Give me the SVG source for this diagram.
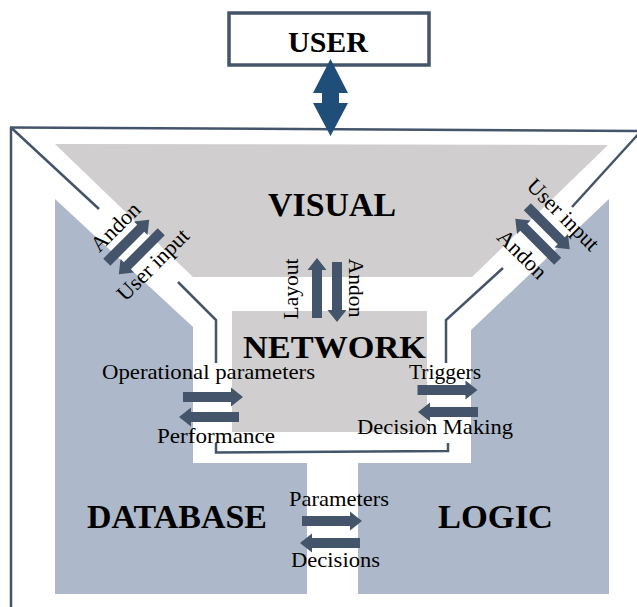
<svg xmlns="http://www.w3.org/2000/svg" width="637" height="607" viewBox="0 0 637 607">
<style>
.t{font-family:"Liberation Serif","Times New Roman",serif;font-size:22px;fill:#000}
.b{font-family:"Liberation Serif","Times New Roman",serif;font-weight:bold;fill:#000}
.ln{fill:none;stroke:#44546a;stroke-width:2.5}
.ar{fill:#44546a}
</style>
<defs>
<path id="arr" d="M-30,-5H18V-9.5L30,0L18,9.5V5H-30Z"/>
</defs>
<rect width="637" height="607" fill="#fff"/>
<g id="frame">
<path class="ln" d="M10,127.5L642,131"/>
<path class="ln" d="M11,127V607"/>
<path class="ln" d="M11,127.5L99,209"/>
<path class="ln" d="M178,282L216,320V363"/>
<path class="ln" d="M216,443V452.5L448,451V443"/>
<path class="ln" d="M446,363V320L503,268"/>
<path class="ln" d="M572,207L642,130"/>
</g>
<g id="visual">
<polygon points="55,144 608,145 472,277 193,277" fill="#d0cece"/>
<text class="b" x="332" y="216" font-size="33" text-anchor="middle" textLength="128" lengthAdjust="spacingAndGlyphs">VISUAL</text>
</g>
<g id="database">
<polygon points="55,199 193,327 193,463 307,463 307,594 55,594" fill="#adb9ca"/>
<text class="b" x="177" y="528" font-size="33" text-anchor="middle" textLength="180" lengthAdjust="spacingAndGlyphs">DATABASE</text>
</g>
<g id="logic">
<polygon points="609,199 471,330 471,463 358,463 358,594 609,594" fill="#adb9ca"/>
<text class="b" x="495.5" y="528" font-size="33" text-anchor="middle" textLength="115" lengthAdjust="spacingAndGlyphs">LOGIC</text>
</g>
<g id="network">
<rect x="232" y="311" width="195" height="121" fill="#d0cece"/>
<text class="b" x="334.5" y="358" font-size="32" text-anchor="middle" textLength="183" lengthAdjust="spacingAndGlyphs">NETWORK</text>
</g>
<g id="user">
<rect x="229" y="13" width="200" height="52" fill="#fff" stroke="#44546a" stroke-width="3.5"/>
<text class="b" x="328" y="52" font-size="30" text-anchor="middle" textLength="80" lengthAdjust="spacingAndGlyphs">USER</text>
</g>
<g id="connectors">
<polygon points="330.5,59 348,93 339,93 339,103 348,103 330.5,136 313,103 322,103 322,93 313,93" fill="#1f4e79"/>
<g transform="translate(134,247) rotate(-45)">
<use href="#arr" class="ar" transform="translate(0,-8.5)"/>
<use href="#arr" class="ar" transform="translate(0,8.5) rotate(180)"/>
<text class="t" x="1" y="-20" text-anchor="middle" textLength="60" lengthAdjust="spacingAndGlyphs">Andon</text>
<text class="t" x="1" y="33" text-anchor="middle" textLength="92" lengthAdjust="spacingAndGlyphs">User input</text>
</g>
<g transform="translate(542.5,234) rotate(45)">
<use href="#arr" class="ar" transform="translate(0,-8.5)"/>
<use href="#arr" class="ar" transform="translate(0,8.5) rotate(180)"/>
<text class="t" x="1" y="-21" text-anchor="middle" textLength="92" lengthAdjust="spacingAndGlyphs">User input</text>
<text class="t" x="0" y="36" text-anchor="middle" textLength="60" lengthAdjust="spacingAndGlyphs">Andon</text>
</g>
<use href="#arr" class="ar" transform="translate(317,288) rotate(-90)"/>
<use href="#arr" class="ar" transform="translate(337,292) rotate(90)"/>
<text class="t" transform="translate(298,289) rotate(-90)" text-anchor="middle" textLength="61" lengthAdjust="spacingAndGlyphs">Layout</text>
<text class="t" transform="translate(349,288) rotate(90)" text-anchor="middle" textLength="59" lengthAdjust="spacingAndGlyphs">Andon</text>
<use href="#arr" class="ar" transform="translate(213,397)"/>
<use href="#arr" class="ar" transform="translate(209,417) rotate(180)"/>
<text class="t" x="102" y="379" textLength="213" lengthAdjust="spacingAndGlyphs">Operational parameters</text>
<text class="t" x="157" y="443" textLength="118" lengthAdjust="spacingAndGlyphs">Performance</text>
<use href="#arr" class="ar" transform="translate(447.5,390)"/>
<use href="#arr" class="ar" transform="translate(448,412) rotate(180)"/>
<text class="t" x="409" y="379" textLength="72" lengthAdjust="spacingAndGlyphs">Triggers</text>
<text class="t" x="357" y="434" textLength="156" lengthAdjust="spacingAndGlyphs">Decision Making</text>
<use href="#arr" class="ar" transform="translate(332,521)"/>
<use href="#arr" class="ar" transform="translate(330,543) rotate(180)"/>
<text class="t" x="289" y="506" textLength="100" lengthAdjust="spacingAndGlyphs">Parameters</text>
<text class="t" x="291" y="567" textLength="89" lengthAdjust="spacingAndGlyphs">Decisions</text>
</g>
</svg>
